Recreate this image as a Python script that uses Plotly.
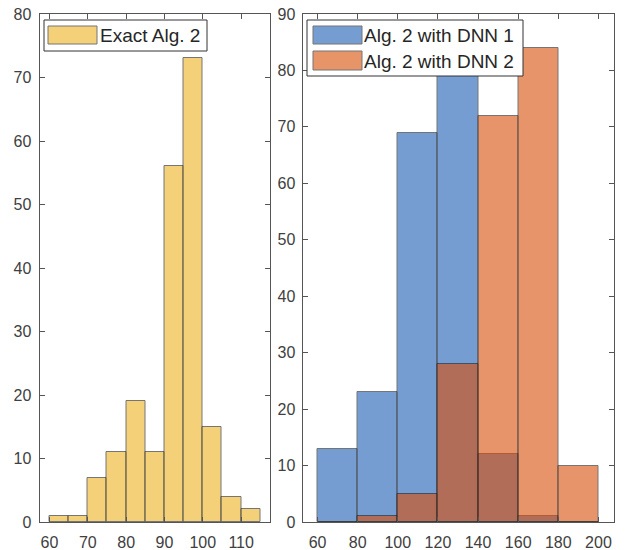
import plotly.graph_objects as go

# ---- data ----
left_edges = [60, 65, 70, 75, 80, 85, 90, 95, 100, 105, 110, 115]
left_counts = [1, 1, 7, 11, 19, 11, 56, 73, 15, 4, 2]

right_edges = [60, 80, 100, 120, 140, 160, 180, 200]
dnn1_counts = [13, 23, 69, 82, 12, 1, 0]
dnn2_counts = [0, 1, 5, 28, 72, 84, 10]

left_xticks = [60, 70, 80, 90, 100, 110]
left_yticks = [0, 10, 20, 30, 40, 50, 60, 70, 80]
right_xticks = [60, 80, 100, 120, 140, 160, 180, 200]
right_yticks = [0, 10, 20, 30, 40, 50, 60, 70, 80, 90]

labels = ["Exact Alg. 2", "Alg. 2 with DNN 1", "Alg. 2 with DNN 2"]
colors = ["#EDB120", "#1C5DB4", "#D94E07"]


def centers(edges):
    return [(a + b) / 2 for a, b in zip(edges[:-1], edges[1:])]


def widths(edges):
    return [b - a for a, b in zip(edges[:-1], edges[1:])]


fig = go.Figure()
edge_line = dict(color="#1a1a1a", width=1)

fig.add_trace(go.Bar(x=centers(left_edges), y=left_counts, width=widths(left_edges),
                     marker=dict(color=colors[0], opacity=0.6, line=edge_line),
                     name=labels[0], xaxis="x", yaxis="y", showlegend=False))
fig.add_trace(go.Bar(x=centers(right_edges), y=dnn1_counts, width=widths(right_edges),
                     marker=dict(color=colors[1], opacity=0.6, line=edge_line),
                     name=labels[1], xaxis="x2", yaxis="y2", showlegend=False))
fig.add_trace(go.Bar(x=centers(right_edges), y=dnn2_counts, width=widths(right_edges),
                     marker=dict(color=colors[2], opacity=0.6, line=edge_line),
                     name=labels[2], xaxis="x2", yaxis="y2", showlegend=False))

W, H = 627, 550
def px(x):
    return x / W
def py(y):
    return 1 - y / H

ydom = [py(522), py(14)]
tickfont = dict(family="Arial, Liberation Sans, sans-serif", size=16, color="#404040")
axcommon = dict(showline=True, linecolor="#555555", linewidth=1, mirror="ticks",
                ticks="inside", ticklen=5, tickcolor="#555555", showgrid=False,
                zeroline=False, tickfont=tickfont, automargin=False)

fig.update_layout(
    width=W, height=H, margin=dict(l=0, r=0, t=0, b=0),
    paper_bgcolor="white", plot_bgcolor="white",
    barmode="overlay", bargap=0,
    xaxis=dict(domain=[px(39.5), px(269.5)], range=[57.4, 117.4], tickvals=left_xticks,
               anchor="y", ticklabelstandoff=6, **axcommon),
    yaxis=dict(domain=ydom, range=[0, 80], tickvals=left_yticks, anchor="x",
               ticklabelstandoff=4, **axcommon),
    xaxis2=dict(domain=[px(302.5), px(613.5)], range=[52.5, 207.5], tickvals=right_xticks,
                anchor="y2", ticklabelstandoff=6, **axcommon),
    yaxis2=dict(domain=ydom, range=[0, 90], tickvals=right_yticks, anchor="x2",
                ticklabelstandoff=3, **axcommon),
)

# ---- legends drawn as boxes ----
legfont = dict(family="Arial, Liberation Sans, sans-serif", size=19, color="#262626")
shapes = []
annos = []

def box(x0, y0, x1, y1, fill="white", line="#262626", op=1.0):
    shapes.append(dict(type="rect", xref="paper", yref="paper",
                       x0=px(x0), x1=px(x1), y0=py(y1), y1=py(y0),
                       fillcolor=fill, opacity=op, line=dict(color=line, width=1)))

def text(x, y, s):
    annos.append(dict(xref="paper", yref="paper", x=px(x), y=py(y), text=s,
                      showarrow=False, xanchor="left", yanchor="middle", font=legfont))

# left legend
box(44, 20, 207, 51, line="#333333")
box(48, 26, 97, 44, fill=colors[0], line="#1a1a1a", op=0.6)
text(98, 35.5, labels[0])

# right legend
box(307, 20, 523, 76, line="#333333")
box(313, 26, 362, 44, fill=colors[1], line="#1a1a1a", op=0.6)
text(362, 35.5, labels[1])
box(313, 51, 362, 70, fill=colors[2], line="#1a1a1a", op=0.6)
text(362, 61, labels[2])

fig.update_layout(shapes=shapes, annotations=annos)
fig.write_html("out.html", config={"displayModeBar": False},
               post_script="document.body.style.margin='0';document.body.style.overflow='hidden';")
